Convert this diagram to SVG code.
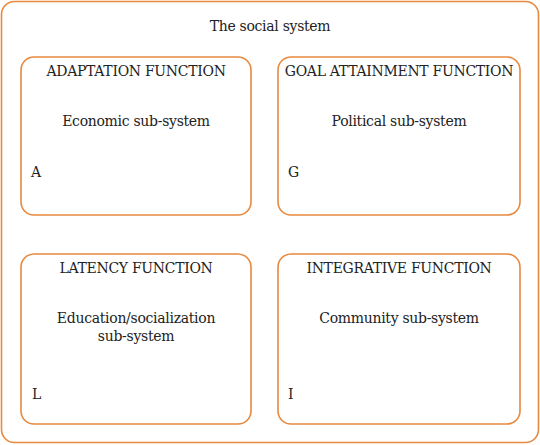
<svg xmlns="http://www.w3.org/2000/svg" width="540" height="445" viewBox="0 0 540 445">
<style>
.box{fill:#fff;stroke:#E8893F;stroke-width:1.6}
.t{font-family:'DejaVu Serif',serif;font-size:14px;fill:#222;letter-spacing:-0.3px}
.c{text-anchor:middle}
</style>
<rect x="0" y="0" width="540" height="445" fill="#fff"/>
<g id="system">
<rect class="box" x="1.5" y="1.5" width="537" height="441" rx="13"/>
<text class="t c" x="270" y="31">The social system</text>
</g>
<g id="adaptation">
<rect class="box" x="21" y="57" width="230" height="158" rx="13"/>
<text class="t c" x="136" y="76">ADAPTATION FUNCTION</text>
<text class="t c" x="136" y="126">Economic sub-system</text>
<text class="t" x="31" y="177">A</text>
</g>
<g id="goal">
<rect class="box" x="278" y="57" width="242" height="158" rx="13"/>
<text class="t c" x="399" y="76">GOAL ATTAINMENT FUNCTION</text>
<text class="t c" x="399" y="126">Political sub-system</text>
<text class="t" x="288" y="177">G</text>
</g>
<g id="latency">
<rect class="box" x="21" y="254" width="230" height="170" rx="13"/>
<text class="t c" x="136" y="273">LATENCY FUNCTION</text>
<text class="t c" x="136" y="323">Education/socialization</text>
<text class="t c" x="136" y="341">sub-system</text>
<text class="t" x="32" y="399">L</text>
</g>
<g id="integrative">
<rect class="box" x="278" y="254" width="242" height="170" rx="13"/>
<text class="t c" x="399" y="273">INTEGRATIVE FUNCTION</text>
<text class="t c" x="399" y="323">Community sub-system</text>
<text class="t" x="288" y="399">I</text>
</g>
<g id="connectors"></g>
</svg>
